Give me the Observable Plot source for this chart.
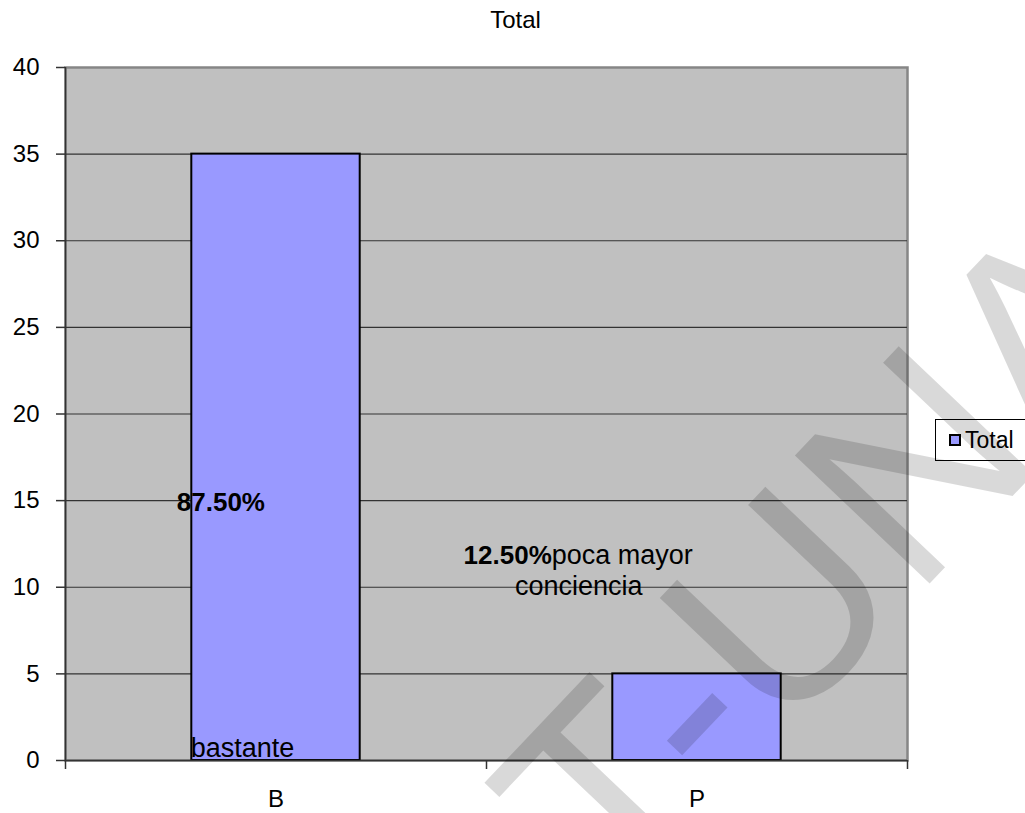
<!DOCTYPE html>
<html>
<head>
<meta charset="utf-8">
<script src="https://cdn.jsdelivr.net/npm/d3@7"></script>
<script src="https://cdn.jsdelivr.net/npm/@observablehq/plot@0.6"></script>
<style>
  html, body { margin: 0; padding: 0; background: #fff; overflow: hidden; }
  #wrap { position: relative; width: 1025px; height: 813px; font-family: "Liberation Sans", Arial, sans-serif; }
  #title { position: absolute; left: 0; width: 1031px; top: 6px; text-align: center; font-size: 24px; color: #000; }
  #legend { position: absolute; left: 935px; top: 419px; width: 110px; height: 42px; border: 1px solid #000; background: #fff; box-sizing: border-box; }
  #legend .sw { position: absolute; left: 13px; top: 14px; width: 12px; height: 12px; background: #9999ff; border: 2px solid #000; box-sizing: border-box; }
  #legend .lb { position: absolute; left: 29px; top: 6px; font-size: 23px; line-height: 28px; }
  #mark { position: absolute; left: 0; top: 0; pointer-events: none; }
</style>
</head>
<body>
<div id="wrap">
  <div id="title">Total</div>
  <div id="chart"></div>
  <div id="legend"><div class="sw"></div><div class="lb">Total</div></div>
</div>
<script>
// Survey answers: count of respondents per category
const categories = ["B", "P"];
const values = [35, 5];
const answerText = ["bastante", "poca mayor"];
const answerText2 = ["", "conciencia"];
const yTicks = [0, 5, 10, 15, 20, 25, 30, 35, 40];
const seriesName = "Total";

const total = d3.sum(values);
const rows = categories.map((c, i) => ({
  category: c,
  i,
  value: values[i],
  pct: d3.format(".2%")(values[i] / total),
  answer: answerText[i],
  answer2: answerText2[i]
}));

const barFill = "#9999ff";
const font = "Liberation Sans, Arial, sans-serif";
const single = rows.filter(d => d.answer2 === "");
const double = rows.filter(d => d.answer2 !== "");

const chart = Plot.plot({
  width: 1025,
  height: 813,
  marginTop: 67,
  marginLeft: 65,
  marginRight: 118,
  marginBottom: 53,
  style: { fontFamily: font, color: "#000", background: "transparent" },
  x: { type: "linear", domain: [0, categories.length], axis: null },
  y: { domain: [0, 40], axis: null },
  marks: [
    Plot.frame({ fill: "#c0c0c0", stroke: "#868686", strokeWidth: 2.5 }),
    Plot.ruleY(yTicks.slice(1, -1), { stroke: "#333", strokeWidth: 1.2 }),
    Plot.rectY(rows, {
      x1: d => d.i + 0.3,
      x2: d => d.i + 0.7,
      y: "value",
      fill: barFill,
      stroke: "#000",
      strokeWidth: 2
    }),
    // percentage and answer labels
    Plot.text(single, {
      x: d => d.i + 0.3, y: 0, text: "pct",
      textAnchor: "start", dx: -15, dy: -258,
      fontSize: 26, fontWeight: "bold"
    }),
    Plot.text(single, {
      x: d => d.i + 0.3, y: 0, text: "answer",
      textAnchor: "start", dx: -1, dy: -12, fontSize: 27
    }),
    Plot.text(double, {
      x: d => d.i + 0.3, y: 0, text: "pct",
      textAnchor: "end", dx: -61, dy: -205,
      fontSize: 26, fontWeight: "bold"
    }),
    Plot.text(double, {
      x: d => d.i + 0.3, y: 0, text: "answer",
      textAnchor: "start", dx: -61, dy: -205, fontSize: 27
    }),
    Plot.text(double, {
      x: d => d.i + 0.3, y: 0, text: "answer2",
      textAnchor: "middle", dx: -34, dy: -174, fontSize: 27
    }),
    Plot.ruleX([0], { stroke: "#333", strokeWidth: 1.5 }),
    Plot.ruleY([0], { stroke: "#333", strokeWidth: 1.5 }),
    Plot.axisY({
      ticks: yTicks,
      tickSize: 9,
      tickPadding: 17,
      fontSize: 24,
      stroke: "#333",
      strokeWidth: 1.5,
      label: null
    }),
    Plot.axisX({
      ticks: d3.range(categories.length + 1),
      tickSize: 9,
      tickFormat: () => "",
      stroke: "#333",
      strokeWidth: 1.5,
      label: null
    }),
    // category names under the axis
    Plot.text(rows, {
      x: d => d.i + 0.5, y: 0, text: "category",
      dy: 39, fontSize: 24
    })
  ]
});
document.getElementById("chart").appendChild(chart);
document.querySelector("#legend .lb").textContent = seriesName;

// diagonal watermark over the page
const ns = "http://www.w3.org/2000/svg";
const wm = document.createElementNS(ns, "svg");
wm.setAttribute("id", "mark");
wm.setAttribute("width", 1025);
wm.setAttribute("height", 813);
const t = document.createElementNS(ns, "text");
t.setAttribute("transform", "translate(615,915) rotate(-46.5)");
t.setAttribute("font-family", font);
t.setAttribute("font-size", 270);
t.setAttribute("fill", "#000");
t.setAttribute("fill-opacity", 0.15);
t.textContent = "T-UNA";
wm.appendChild(t);
document.getElementById("wrap").appendChild(wm);
</script>
</body>
</html>
